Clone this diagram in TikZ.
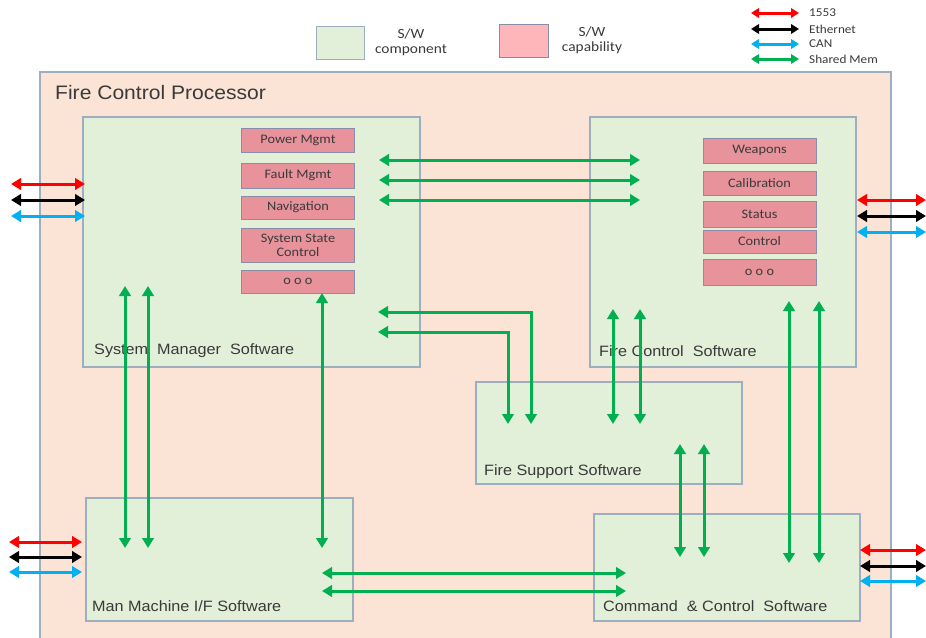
\documentclass[tikz,border=0pt]{standalone}
\usepackage{fontspec}
\setmainfont{Liberation Sans}
\newfontfamily\labfont[FakeStretch=1.08]{Liberation Sans}
\newfontfamily\capfont[FakeStretch=1.1]{Carlito}
\usetikzlibrary{arrows.meta}

\definecolor{peach}{HTML}{FBE3D5}
\definecolor{compfill}{HTML}{E2EFD9}
\definecolor{boxline}{HTML}{9DAEBE}
\definecolor{capfill}{HTML}{E8929B}
\definecolor{capline}{HTML}{8A8CA8}
\definecolor{legpink}{HTML}{FFB6BA}
\definecolor{linkgreen}{HTML}{00B050}
\definecolor{canblue}{HTML}{00B0F0}
\definecolor{txt}{HTML}{3A3A3A}

\tikzset{
  linktip/.tip={Triangle[length=10pt,width=11.5pt]},
  smalltip/.tip={Triangle[length=8pt,width=9.5pt]},
  processor/.style={draw=boxline, fill=peach, line width=1.2pt},
  comp/.style={draw=boxline, fill=compfill, line width=1.2pt, inner sep=0pt,
    outer sep=0pt, anchor=north west},
  capbox/.style={draw=capline, fill=capfill, line width=1pt, inner sep=0pt,
    outer sep=0pt, minimum width=113pt, text=txt, align=center,
    font=\capfont\fontsize{13}{14}\selectfont},
  boxlabel/.style={anchor=base west, inner sep=0pt, text=txt,
    font=\labfont\fontsize{15}{17}\selectfont},
  link/.style={draw=linkgreen, line width=3pt, linktip-linktip},
  bus/.style={line width=3pt, linktip-linktip},
  legbus/.style={line width=3pt, smalltip-smalltip},
  legtext/.style={anchor=west, inner sep=0pt, text=txt,
    font=\capfont\fontsize{12}{12}\selectfont},
  legkey/.style={text=txt, align=center, inner sep=0pt,
    font=\capfont\fontsize{14}{15}\selectfont},
}

\begin{document}
\begin{tikzpicture}[x=1pt,y=-1pt]
\useasboundingbox (0,0) rectangle (926,637);

% ---------- legend ----------
\node[draw=boxline, fill=compfill, line width=1.2pt, anchor=north west,
  minimum width=48pt, minimum height=33pt, inner sep=0pt] (keycomp) at (316,26) {};
\node[legkey] (keycomptxt) at (411,42) {S/W\\component};
\node[draw=capline, fill=legpink, line width=1.2pt, anchor=north west,
  minimum width=49pt, minimum height=33pt, inner sep=0pt] (keycap) at (499,24) {};
\node[legkey] (keycaptxt) at (592,40) {S/W\\capability};

\coordinate (k1a) at (751,13); \coordinate (k1b) at (799,13);
\coordinate (k2a) at (751,29); \coordinate (k2b) at (799,29);
\coordinate (k3a) at (751,44); \coordinate (k3b) at (799,44);
\coordinate (k4a) at (751,59); \coordinate (k4b) at (799,59);
\draw[legbus, red] (k1a) -- (k1b);
\draw[legbus, black] (k2a) -- (k2b);
\draw[legbus, canblue] (k3a) -- (k3b);
\draw[legbus, linkgreen] (k4a) -- (k4b);
\node[legtext] (l1) at (809,13) {1553};
\node[legtext] (l2) at (809,29) {Ethernet};
\node[legtext] (l3) at (809,44) {CAN};
\node[legtext] (l4) at (809,59) {Shared Mem};

% ---------- processor ----------
\draw[processor] (40,648) -- (40,72) -- (891,72) -- (891,648);
\node[anchor=base west, inner sep=0pt, text=txt,
  font=\labfont\fontsize{19.5}{21}\selectfont] (fcp) at (55,99) {Fire Control Processor};

% ---------- software components ----------
\node[comp, minimum width=337pt, minimum height=250pt] (sms) at (83,117) {};
\node[comp, minimum width=266pt, minimum height=250pt] (fcs) at (590,117) {};
\node[comp, minimum width=266pt, minimum height=102pt] (fss) at (476,382) {};
\node[comp, minimum width=267pt, minimum height=123pt] (mmi) at (86,498) {};
\node[comp, minimum width=266pt, minimum height=107pt] (cc) at (594,514) {};

\node[boxlabel] (smslab) at (94,354) {System~~Manager~~Software};
\node[boxlabel] (fcslab) at (599,356) {Fire Control~~Software};
\node[boxlabel] (fsslab) at (484,475) {Fire Support Software};
\node[boxlabel] (mmilab) at (92,611) {Man Machine I/F Software};
\node[boxlabel] (cclab)  at (603,611) {Command~~\& Control~~Software};

% ---------- capabilities ----------
\node[capbox, minimum height=24pt] (pwr)  at (298,140.5) {Power Mgmt};
\node[capbox, minimum height=25pt] (flt)  at (298,175.5) {Fault Mgmt};
\node[capbox, minimum height=23pt] (nav)  at (298,207.5) {Navigation};
\node[capbox, minimum height=34pt] (sys)  at (298,245)   {System State\\Control};
\node[capbox, minimum height=23pt] (smso) at (298,281.5) {o o o};

\node[capbox, minimum height=25pt] (wpn)  at (759.5,150.5) {Weapons};
\node[capbox, minimum height=24pt] (cal)  at (759.5,183)   {Calibration};
\node[capbox, minimum height=26pt] (sts)  at (759.5,214)   {Status};
\node[capbox, minimum height=23pt] (ctl)  at (759.5,241.5) {Control};
\node[capbox, minimum height=26pt] (fcso) at (759.5,272)   {o o o};

% ---------- shared memory links ----------
% System Manager <-> Fire Control
\foreach \y [count=\i] in {160,180,200} {
  \coordinate (sf\i a) at (379,\y); \coordinate (sf\i b) at (640,\y);
  \draw[link] (sf\i a) -- (sf\i b);
}
% System Manager <-> Fire Support (elbows)
\coordinate (sp1a) at (378,312); \coordinate (sp1b) at (531,424);
\coordinate (sp2a) at (378,332); \coordinate (sp2b) at (508,424);
\draw[link] (sp1a) -| (sp1b);
\draw[link] (sp2a) -| (sp2b);
% Fire Control <-> Fire Support
\foreach \x [count=\i] in {613,640} {
  \coordinate (fp\i a) at (\x,309); \coordinate (fp\i b) at (\x,424);
  \draw[link] (fp\i a) -- (fp\i b);
}
% Fire Support <-> Command & Control
\foreach \x [count=\i] in {680,704} {
  \coordinate (pc\i a) at (\x,444); \coordinate (pc\i b) at (\x,557);
  \draw[link] (pc\i a) -- (pc\i b);
}
% Fire Control <-> Command & Control
\foreach \x [count=\i] in {789,819} {
  \coordinate (fc\i a) at (\x,301); \coordinate (fc\i b) at (\x,563);
  \draw[link] (fc\i a) -- (fc\i b);
}
% System Manager <-> Man Machine I/F
\foreach \x [count=\i] in {125,148} {
  \coordinate (sm\i a) at (\x,286); \coordinate (sm\i b) at (\x,548);
  \draw[link] (sm\i a) -- (sm\i b);
}
\coordinate (sm3b) at (322,548);
\draw[link] (smso.south -| sm3b) -- (sm3b);
% Man Machine I/F <-> Command & Control
\foreach \y [count=\i] in {573,591} {
  \coordinate (mc\i a) at (322,\y); \coordinate (mc\i b) at (626,\y);
  \draw[link] (mc\i a) -- (mc\i b);
}

% ---------- external buses ----------
\foreach \y/\c [count=\i] in {184/red,200/black,216/canblue} {
  \coordinate (el\i a) at (11,\y); \coordinate (el\i b) at (85,\y);
  \draw[bus, \c] (el\i a) -- (el\i b);
}
\foreach \y/\c [count=\i] in {200/red,216/black,232/canblue} {
  \coordinate (er\i a) at (857,\y); \coordinate (er\i b) at (926,\y);
  \draw[bus, \c] (er\i a) -- (er\i b);
}
\foreach \y/\c [count=\i] in {542/red,557/black,572/canblue} {
  \coordinate (bl\i a) at (9,\y); \coordinate (bl\i b) at (82,\y);
  \draw[bus, \c] (bl\i a) -- (bl\i b);
}
\foreach \y/\c [count=\i] in {550/red,566/black,581/canblue} {
  \coordinate (br\i a) at (860,\y); \coordinate (br\i b) at (926,\y);
  \draw[bus, \c] (br\i a) -- (br\i b);
}
\end{tikzpicture}
\end{document}
